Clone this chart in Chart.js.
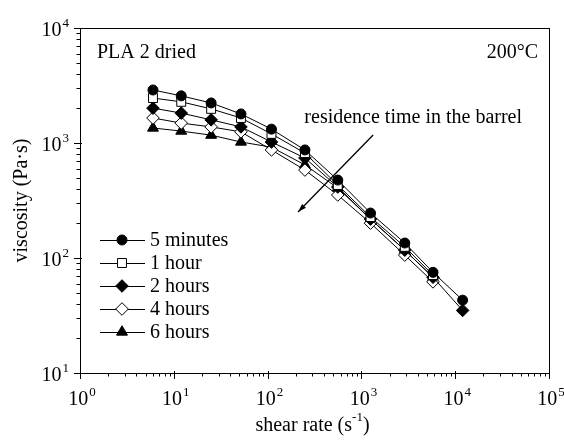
<!DOCTYPE html>
<html>
<head>
<meta charset="utf-8">
<script src="https://cdn.jsdelivr.net/npm/chart.js@4/dist/chart.umd.min.js"></script>
<style>
  html, body { margin: 0; padding: 0; background: #fff; }
</style>
</head>
<body>
<canvas id="c" width="564" height="440"></canvas>
<script>
// shear rate (1/s) and viscosity (Pa·s)
const shearRate = [6, 12, 25, 52, 110, 250, 560, 1250, 2900, 5800, 12000];
const min5  = [2890, 2570, 2230, 1790, 1320, 870, 476, 246, 135, 75, 43];
const hour1 = [2460, 2280, 1980, 1650, 1200, 818, 431, 227, 125, 71];
const hour2 = [2010, 1820, 1590, 1380, 1020, 741, 414, 218, 117, 68, 35];
const hour4 = [1650, 1490, 1380, 1250, 870, 582, 353, 201, 106, 62];
const hour6 = [1350, 1270, 1170, 1020, 920, 645, 406, 218, 117, 68];
const seriesNames = ['5 minutes', '1 hour', '2 hours', '4 hours', '6 hours'];
const xExponents = [0, 1, 2, 3, 4, 5];
const yExponents = [1, 2, 3, 4];

const FONT = '"Liberation Serif", "Times New Roman", serif';

const styles = [
  {pointStyle: 'circle',  fill: '#000', radius: 5},
  {pointStyle: 'rect',    fill: '#fff', radius: 6.3},
  {pointStyle: 'rectRot', fill: '#000', radius: 6.3},
  {pointStyle: 'rectRot', fill: '#fff', radius: 6.3},
  {pointStyle: 'triangle', fill: '#000', radius: 6.3}
];

function pts(vals) {
  return vals.map((v, i) => ({x: shearRate[i], y: v}));
}

const allSeries = [min5, hour1, hour2, hour4, hour6];
const datasets = allSeries.map((vals, i) => ({
  label: seriesNames[i],
  data: pts(vals),
  borderColor: '#000',
  borderWidth: 1,
  backgroundColor: styles[i].fill,
  pointStyle: styles[i].pointStyle,
  pointRadius: styles[i].radius,
  pointBackgroundColor: styles[i].fill,
  pointBorderColor: '#000',
  pointBorderWidth: 1,
  tension: 0,
  fill: false
}));

function drawMarker(ctx, style, x, y) {
  const r = style.radius;
  ctx.beginPath();
  if (style.pointStyle === 'circle') {
    ctx.arc(x, y, r, 0, Math.PI * 2);
  } else if (style.pointStyle === 'rect') {
    const s = r * Math.SQRT1_2;
    ctx.rect(x - s, y - s, 2 * s, 2 * s);
  } else if (style.pointStyle === 'rectRot') {
    ctx.moveTo(x - r, y); ctx.lineTo(x, y - r); ctx.lineTo(x + r, y); ctx.lineTo(x, y + r);
    ctx.closePath();
  } else {
    const side = 3 * r / Math.sqrt(3), h = side * Math.sqrt(3) / 2;
    ctx.moveTo(x - side / 2, y + h / 3); ctx.lineTo(x + side / 2, y + h / 3); ctx.lineTo(x, y - 2 * h / 3);
    ctx.closePath();
  }
  ctx.fillStyle = style.fill;
  ctx.fill();
  ctx.strokeStyle = '#000';
  ctx.lineWidth = 1;
  ctx.stroke();
}

function powerLabel(ctx, exp, x, y, align) {
  ctx.font = '20px ' + FONT;
  const base = ctx.measureText('10').width;
  ctx.font = '13px ' + FONT;
  const sup = ctx.measureText(String(exp)).width;
  const total = base + 1 + sup;
  let left = align === 'right' ? x - total : x - total / 2;
  ctx.textAlign = 'left';
  ctx.textBaseline = 'alphabetic';
  ctx.font = '20px ' + FONT;
  ctx.fillText('10', left, y);
  ctx.font = '13px ' + FONT;
  ctx.fillText(String(exp), left + base + 1, y - 9);
}

const decor = {
  id: 'decor',
  afterDraw(chart) {
    const {ctx, chartArea: a, scales: {x, y}} = chart;
    ctx.save();
    ctx.fillStyle = '#000';
    ctx.strokeStyle = '#000';
    ctx.lineWidth = 1;
    ctx.strokeRect(a.left + 0.5, a.top + 0.5, a.right - a.left, a.bottom - a.top);

    // x ticks + labels
    ctx.beginPath();
    xExponents.forEach(e => {
      const px = Math.round(x.getPixelForValue(Math.pow(10, e))) + 0.5;
      ctx.moveTo(px, a.bottom - 2); ctx.lineTo(px, a.bottom + 6);
      if (e < xExponents[xExponents.length - 1]) {
        for (let m = 2; m < 10; m++) {
          const mx = Math.round(x.getPixelForValue(m * Math.pow(10, e))) + 0.5;
          ctx.moveTo(mx, a.bottom); ctx.lineTo(mx, a.bottom + 3.5);
        }
      }
    });
    // y ticks
    yExponents.forEach(e => {
      const py = Math.round(y.getPixelForValue(Math.pow(10, e))) + 0.5;
      ctx.moveTo(a.left + 2, py); ctx.lineTo(a.left - 6, py);
      if (e < yExponents[yExponents.length - 1]) {
        for (let m = 2; m < 10; m++) {
          const my = Math.round(y.getPixelForValue(m * Math.pow(10, e))) + 0.5;
          ctx.moveTo(a.left, my); ctx.lineTo(a.left - 3.5, my);
        }
      }
    });
    ctx.stroke();

    xExponents.forEach(e => powerLabel(ctx, e, x.getPixelForValue(Math.pow(10, e)) + 2, a.bottom + 32, 'center'));
    yExponents.forEach(e => powerLabel(ctx, e, a.left - 11, y.getPixelForValue(Math.pow(10, e)) + 8, 'right'));

    // axis titles
    ctx.font = '20px ' + FONT;
    ctx.textAlign = 'center';
    ctx.textBaseline = 'alphabetic';
    const xt = 'shear rate (s';
    const w1 = ctx.measureText(xt).width;
    ctx.font = '13px ' + FONT;
    const w2 = ctx.measureText('-1').width;
    ctx.font = '20px ' + FONT;
    const w3 = ctx.measureText(')').width;
    const cx = (a.left + a.right) / 2 - 2;
    let lx = cx - (w1 + w2 + w3) / 2;
    ctx.textAlign = 'left';
    ctx.fillText(xt, lx, 431);
    ctx.font = '13px ' + FONT;
    ctx.fillText('-1', lx + w1, 421);
    ctx.font = '20px ' + FONT;
    ctx.fillText(')', lx + w1 + w2, 431);

    ctx.save();
    ctx.translate(27, (a.top + a.bottom) / 2);
    ctx.rotate(-Math.PI / 2);
    ctx.textAlign = 'center';
    ctx.fillText('viscosity (Pa\u00b7s)', 0, 0);
    ctx.restore();

    // annotations
    ctx.textAlign = 'left';
    ctx.fillText('PLA 2 dried', a.left + 17, a.top + 30);
    ctx.textAlign = 'right';
    ctx.fillText('200\u00b0C', a.right - 11, a.top + 30);
    ctx.textAlign = 'center';
    ctx.fillText('residence time in the barrel', x.getPixelForValue(3565), y.getPixelForValue(1718) + 7);

    const x0 = x.getPixelForValue(1334), y0 = y.getPixelForValue(1175);
    const x1 = x.getPixelForValue(211), y1 = y.getPixelForValue(251);
    ctx.beginPath();
    ctx.moveTo(x0, y0); ctx.lineTo(x1, y1);
    ctx.lineWidth = 1.3;
    ctx.stroke();
    const ang = Math.atan2(y1 - y0, x1 - x0);
    ctx.beginPath();
    ctx.moveTo(x1, y1);
    ctx.lineTo(x1 - 9 * Math.cos(ang - 0.3), y1 - 9 * Math.sin(ang - 0.3));
    ctx.lineTo(x1 - 9 * Math.cos(ang + 0.3), y1 - 9 * Math.sin(ang + 0.3));
    ctx.closePath();
    ctx.fill();

    // legend
    ctx.lineWidth = 1;
    ctx.textAlign = 'left';
    ctx.textBaseline = 'middle';
    seriesNames.forEach((name, i) => {
      const ly = 240 + i * 23;
      ctx.beginPath();
      ctx.moveTo(100, ly + 0.5); ctx.lineTo(145, ly + 0.5);
      ctx.stroke();
      drawMarker(ctx, styles[i], 122, ly);
      ctx.fillStyle = '#000';
      ctx.font = '20px ' + FONT;
      ctx.fillText(name, 150, ly + 1);
    });
    ctx.restore();
  }
};

new Chart(document.getElementById('c'), {
  type: 'line',
  data: {datasets},
  options: {
    responsive: false,
    animation: false,
    devicePixelRatio: 1,
    layout: {padding: {left: 80, top: 28, right: 15, bottom: 67}},
    plugins: {legend: {display: false}, tooltip: {enabled: false}},
    scales: {
      x: {type: 'logarithmic', min: 1, max: 100000, display: false},
      y: {type: 'logarithmic', min: 10, max: 10000, display: false}
    }
  },
  plugins: [decor]
});
</script>
</body>
</html>
